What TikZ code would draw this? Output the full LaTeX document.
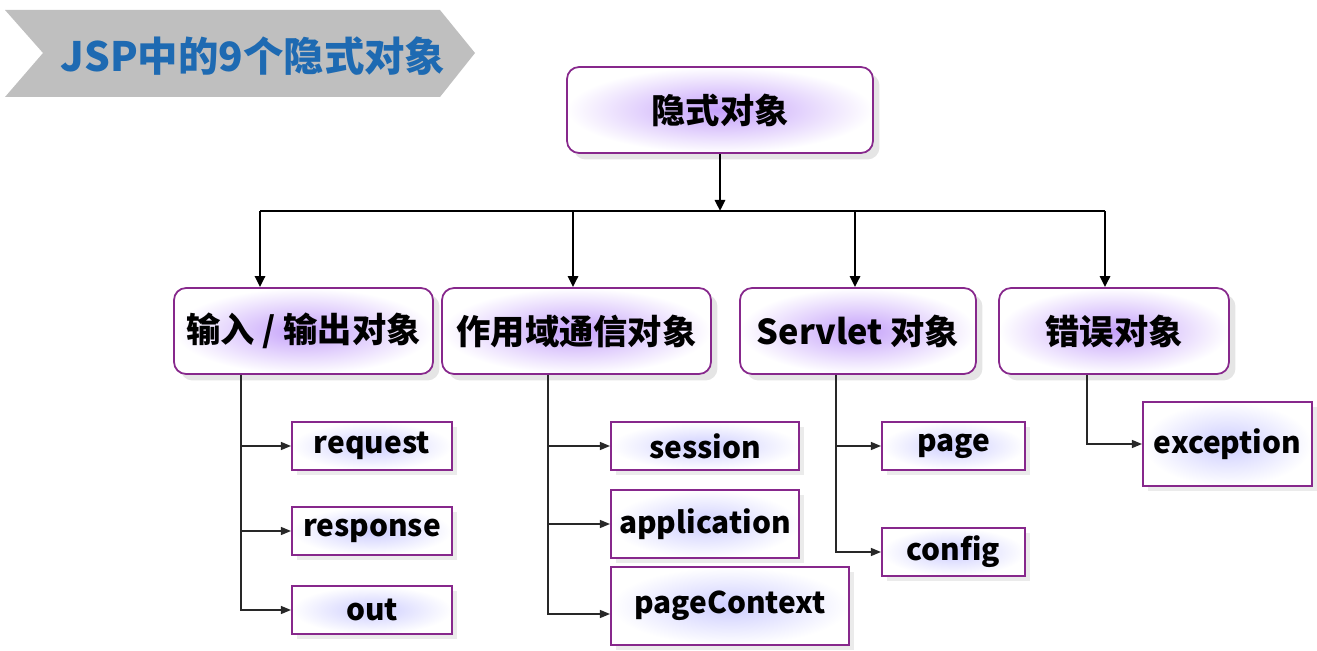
\documentclass[tikz,border=0pt]{standalone}
\usepackage{fontspec}
\newfontfamily\cjk{Noto Sans CJK SC}
\usepackage{tikz}
\usetikzlibrary{arrows.meta, positioning, shadows}
\definecolor{jspborder}{RGB}{135,40,140}
\definecolor{jspglow}{RGB}{196,160,250}
\definecolor{leafglow}{RGB}{205,205,255}
\definecolor{jspblue}{RGB}{30,106,178}
\definecolor{bannergray}{RGB}{191,191,191}
\definecolor{linegray}{RGB}{40,40,40}

\begin{document}
\begin{tikzpicture}[x=0.02cm, y=-0.02cm,
    group/.style={rectangle, rounded corners=0.24cm, draw=jspborder, line width=1pt, inner color=jspglow, outer color=white, minimum height=1.72cm, align=center, font=\cjk\bfseries\fontsize{19.5}{21}\selectfont, drop shadow={shadow xshift=0.13cm, shadow yshift=-0.13cm, fill=black!10, opacity=1}},
    leaf/.style={rectangle, draw=jspborder, line width=1.2pt, inner color=leafglow, outer color=white, align=center, font=\cjk\bfseries\fontsize{17}{19}\selectfont, drop shadow={shadow xshift=0.1cm, shadow yshift=-0.1cm, fill=black!8, opacity=1}},
    arrow/.style={-{Triangle[length=2.2mm, width=2mm]}, line width=1.6pt, color=black},
    branch/.style={-{Triangle[length=2mm, width=1.6mm]}, line width=0.7pt, color=linegray}
]
\useasboundingbox (0,0) rectangle (1317,651);

% banner
\fill[bannergray] (5,10) -- (440,10) -- (475,53) -- (440,97) -- (5,97) -- (43,53) -- cycle;
\node[text=jspblue, font=\cjk\bfseries\fontsize{23}{25}\selectfont] (title) at (253,56) {JSP中的9个隐式对象};

% top and groups
\node[group, minimum width=6.12cm] (top) at (720,110) {隐式对象};
\node[group, minimum width=5.18cm] (io) at (303.5,331) {输入 / 输出对象};
\node[group, minimum width=5.38cm] (scope) at (576.5,331) {作用域通信对象};
\node[group, minimum width=4.72cm] (servlet) at (858,331) {Servlet 对象};
\node[group, minimum width=4.6cm] (error) at (1114,331) {错误对象};

% leaves
\node[leaf, minimum width=3.2cm, minimum height=0.96cm] (request) at (372,446) {request};
\node[leaf, minimum width=3.2cm, minimum height=0.96cm] (response) at (372,531) {response};
\node[leaf, minimum width=3.2cm, minimum height=0.96cm] (out) at (372,610) {out};
\node[leaf, minimum width=3.76cm, minimum height=0.96cm] (session) at (705,446) {session};
\node[leaf, minimum width=3.76cm, minimum height=1.36cm] (application) at (705,524) {application};
\node[leaf, minimum width=4.76cm, minimum height=1.56cm] (pagecontext) at (730,606) {pageContext};
\node[leaf, minimum width=2.86cm, minimum height=0.96cm] (page) at (953.5,446) {page};
\node[leaf, minimum width=2.86cm, minimum height=0.96cm] (config) at (953.5,552) {config};
\node[leaf, minimum width=3.38cm, minimum height=1.68cm] (exception) at (1227.5,444) {exception};

% bus
\coordinate (busl) at (260,211);
\coordinate (busr) at (1105,211);
\draw[line width=1.6pt] (busl) -- (busr);
\draw[arrow] (top.south) -- (top.south |- busl);
\draw[arrow] (busl) -- (io.north -| busl);
\draw[arrow] ([xshift=-0.07cm]scope.north |- busl) -- ([xshift=-0.07cm]scope.north);
\draw[arrow] ([xshift=-0.06cm]servlet.north |- busl) -- ([xshift=-0.06cm]servlet.north);
\draw[arrow] (busr) -- (error.north -| busr);

% branches
\coordinate (iox) at (241,0);
\coordinate (scopex) at (548,0);
\coordinate (servx) at (836,0);
\coordinate (errx) at (1087,0);
\draw[branch] (io.south -| iox) |- (request.west);
\draw[branch] (io.south -| iox) |- (response.west);
\draw[branch] (io.south -| iox) |- (out.west);
\draw[branch] (scope.south -| scopex) |- (session.west);
\draw[branch] (scope.south -| scopex) |- (application.west);
\draw[branch] (scope.south -| scopex) |- ([yshift=-0.16cm]pagecontext.west);
\draw[branch] (servlet.south -| servx) |- (page.west);
\draw[branch] (servlet.south -| servx) |- (config.west);
\draw[branch] (error.south -| errx) |- (exception.west);
\end{tikzpicture}
\end{document}
